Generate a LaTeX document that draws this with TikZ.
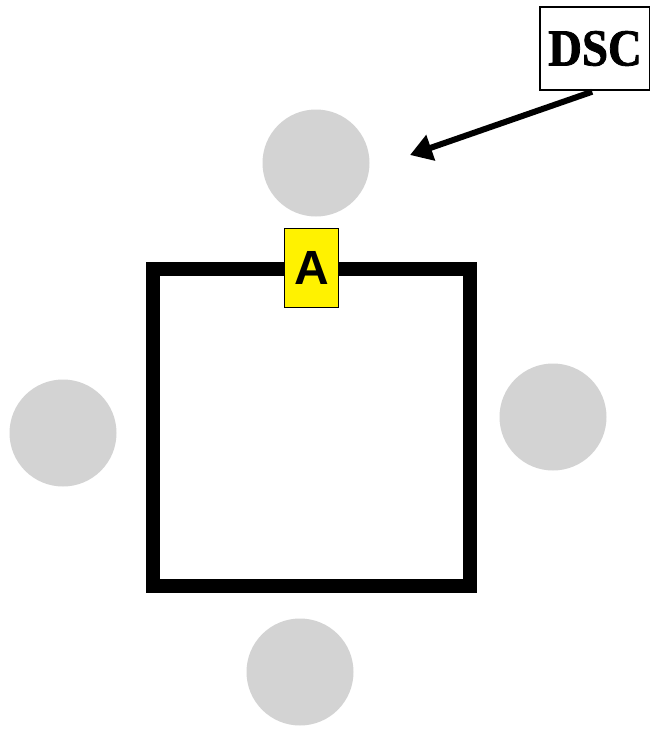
\documentclass[tikz,border=0pt]{standalone}
\usepackage{fontspec}
\setmainfont{Liberation Serif}
\newfontfamily\labelsans{Liberation Sans}
\newfontfamily\calloutfont[FakeStretch=0.9,FakeBold=1.5]{Liberation Serif Bold}
\usetikzlibrary{arrows.meta}
\definecolor{seatgray}{HTML}{D3D3D3}
\begin{document}
\begin{tikzpicture}[x=1pt,y=-1pt,
  seat/.style={circle,fill=seatgray,draw=none,minimum size=107pt,inner sep=0pt},
  tablebox/.style={rectangle,draw=black,line width=14pt,minimum width=317pt,minimum height=317.5pt,inner sep=0pt},
  tag/.style={rectangle,draw=black,line width=1.2pt,fill=yellow,minimum width=54pt,minimum height=79pt,inner sep=0pt,font=\labelsans\bfseries\fontsize{48}{48}\selectfont},
  callout/.style={rectangle,draw=black,line width=1.5pt,fill=white,minimum width=110pt,minimum height=83pt,inner sep=0pt,font=\calloutfont\fontsize{52}{52}\selectfont},
  pointer/.style={line width=6pt,-{Triangle[length=22pt,width=26pt]}}]
\useasboundingbox (0,0) rectangle (649,729);
% table and its seats
\node[tablebox] (table) at (311.5,427.25) {};
\node[seat] (top) at (316,163) {};
\node[seat] (left) at (63,433) {};
\node[seat] (right) at (553,417) {};
\node[seat] (bottom) at (300,672) {};
\node[tag] (a) at (311.5,268) {A};
% label with pointer
\node[callout] (dsc) at (595,48.5) {DSC};
\coordinate (tip) at (410,155);
\draw[pointer,shorten <=3pt] (dsc.south) -- (tip);
\end{tikzpicture}
\end{document}
